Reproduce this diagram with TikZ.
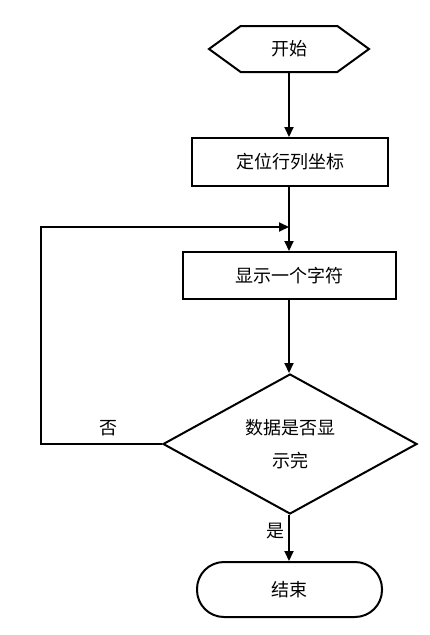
\documentclass[tikz,border=0pt]{standalone}
\usepackage{fontspec}
\newfontfamily\cjk{Noto Sans CJK SC}
\usetikzlibrary{arrows.meta,shapes.geometric,shapes.symbols}

\begin{document}
\begin{tikzpicture}[
  x=1pt, y=-1pt,
  every node/.style={font=\cjk\fontsize{18}{33}\selectfont},
  flow/.style={line width=2pt, -{Triangle[length=10pt,width=9pt]}},
  terminal/.style={draw, line width=2pt, signal, signal to=west and east, signal pointer angle=72, minimum width=160pt, minimum height=46pt, inner sep=0pt},
  process/.style={draw, line width=2pt, rectangle, minimum height=47pt, inner sep=0pt},
  decision/.style={draw, line width=2pt, diamond, minimum width=254pt, minimum height=140pt, inner sep=0pt, align=center},
  stopbox/.style={draw, line width=2pt, rectangle, rounded corners=27pt, minimum width=185pt, minimum height=55pt}
]
\useasboundingbox (0,0) rectangle (430,635);
\node[terminal] (start) at (289,49) {开始};
\node[process, minimum width=196pt, minimum height=48pt] (locate) at (290,162) {定位行列坐标};
\node[process, minimum width=213pt] (show) at (289.5,275.5) {显示一个字符};
\node[decision] (done) at (290,444) {\raisebox{-3pt}{数据是否显}\\\raisebox{-3pt}{示完}};
\node[stopbox] (finish) at (289.5,589.5) {\raisebox{-4pt}{结束}};
\coordinate (merge) at (289,227);
\coordinate (corner) at (41,227);

\draw[flow] (start) -- (locate.north -| start);
\draw[flow] (locate.south -| merge) -- (show.north -| merge);
\draw[flow] (show.south -| merge) -- (done.north -| merge);
\draw[flow] (done.south -| merge) -- node[left, pos=0.35] (yes) {是} (finish.north -| merge);
\draw[flow] (done.west) -| (corner) -- (merge);
\node (no) at (108,428) {否};
\end{tikzpicture}
\end{document}
